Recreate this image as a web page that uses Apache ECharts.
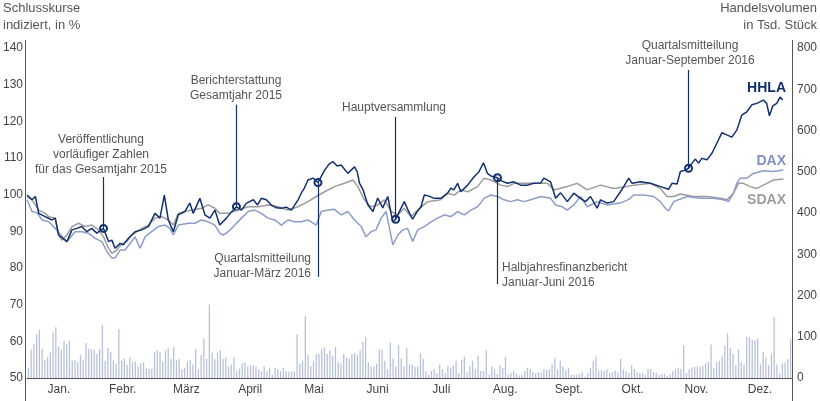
<!DOCTYPE html>
<html>
<head>
<meta charset="utf-8">
<script src="https://cdn.jsdelivr.net/npm/echarts@6/dist/echarts.min.js"></script>
<style>
  html, body { margin: 0; padding: 0; background: #fff; }
  #main { width: 820px; height: 401px; }
</style>
</head>
<body>
<div id="main"></div>
<script>
var months = ['Jan.', 'Febr.', 'März', 'April', 'Mai', 'Juni', 'Juli', 'Aug.', 'Sept.', 'Okt.', 'Nov.', 'Dez.'];

// [Tag im Jahr, Schlusskurs indiziert in %]
var hhla = [[0,99.9],[2.4,98.6],[4,99.5],[5.6,94.9],[8.7,94],[11.9,93.1],[13.5,93.6],[15.1,89],[19.1,87.2],[21.5,90.4],[23.9,90.8],[26.2,91.3],[28.6,89.9],[31,90.8],[33.4,89.5],[36.6,90.8],[39,87.2],[40.6,87.6],[42.1,85.4],[44.5,86.7],[46.1,86.3],[48.5,88.1],[51.7,89.9],[54.9,90.4],[58.1,91.3],[61.2,94.9],[63.6,93.6],[65.7,99.9],[67.6,93.1],[70,89.9],[72.4,94.5],[75.5,95.4],[77.9,97.7],[79.5,94.9],[82.7,99],[85.1,94.5],[87.5,93.6],[89.9,95.8],[92.2,91.7],[95.4,93.6],[97.8,95.3],[100.2,96.7],[102.6,95.8],[105,97.7],[108.3,98.6],[110.3,97.2],[112.1,99],[114.5,98.6],[116.9,97.2],[119.3,96.4],[121.7,96.3],[124.1,96.6],[126.5,95.8],[129.7,98.6],[131.2,100.4],[132.7,101.8],[134.4,104],[136.9,104.5],[139.2,103.3],[142.4,106.7],[144.6,108.4],[146.4,109],[148.4,107.8],[150.3,108.1],[153.5,105.8],[156.7,107.6],[158,106.2],[159.1,103.1],[160.8,101.3],[163.1,97.2],[165.5,95.4],[167.8,99.1],[170.2,96.4],[172.6,99.5],[175,92.6],[176.4,93.3],[178.5,95.8],[180.5,98.1],[182.3,95.8],[184.5,93.3],[186.6,95.3],[188.5,96.7],[190.1,99.9],[192.3,99.6],[194.8,99],[198,99],[201.2,100.4],[202.8,101.8],[204.2,101.3],[206,103.1],[207.6,100.8],[210.8,102.6],[213.9,104.9],[216.2,106.2],[218.4,108.7],[220.3,105.8],[221.9,105.1],[225.1,104.6],[227.2,103.7],[229.9,103.1],[232.9,103.5],[236.2,102.6],[239.5,102.6],[242.4,103.1],[245.8,103.2],[247.3,104.5],[250.5,103.5],[252.9,99],[255.3,100.5],[258.5,98.1],[261.6,100.4],[264.8,99],[267.2,98.1],[269.6,99.5],[272.8,96.3],[274.4,98.6],[277.6,97.7],[280.7,98.1],[283.9,100.8],[285.5,102.2],[287.9,104.5],[289.5,103.1],[293.5,103.5],[298.3,103.1],[303.1,102.2],[307,101.5],[308.6,103.1],[311,102.9],[312.6,106.3],[315,106.7],[316.5,107.2],[318.2,108.6],[319.7,109.7],[321.3,108.6],[322.9,109.9],[325.3,109.5],[327.7,111.3],[330.8,114.9],[332.5,116.9],[334.8,116.3],[337.2,115.7],[339.6,117.6],[340.4,118.1],[342,121.7],[344.4,122.6],[346.8,124.5],[349.2,124.9],[352.3,125.8],[353.9,124.9],[355.2,121.5],[356.8,124.2],[358.7,124.9],[360.3,126.6],[361.6,125.8]];

var dax = [[0,98.6],[2.4,95.4],[4.8,95.1],[7.2,93.1],[10.4,92.6],[13.5,90.8],[17.5,88.1],[19.1,87.2],[23,89.9],[26.2,89.9],[29.4,89.5],[32.6,88.1],[35.8,87.2],[38.2,84.5],[40.6,82.7],[42.1,82.7],[44.5,84.9],[46.9,84.9],[49.3,86.7],[51.7,88.5],[54.1,85.4],[56.5,88.5],[59.6,89.9],[62.8,91.3],[66,91.7],[68.4,90.8],[70,89],[72.4,91.7],[77.2,92.2],[80.3,92.2],[83.5,93.1],[86.7,92.6],[89.9,91.7],[92.2,89.5],[93.9,89],[96.3,89.9],[99.4,91.7],[102.6,93.6],[105.8,95.4],[108.9,95.8],[112.1,94.9],[115.3,93.6],[118.5,93.1],[121.7,91.7],[124.9,93.1],[128,92.6],[131.2,92.6],[134.4,93.1],[138.4,91.7],[140.8,95.4],[144,95.8],[147.1,96],[150.3,94.5],[153.5,95.4],[156.7,93.1],[159.9,91.3],[162.2,88.5],[164.6,89.9],[167,90.4],[169.4,93.6],[171.8,95.4],[173.2,91.5],[175,86.3],[177.4,89],[179.8,90.4],[182.1,90.8],[184.5,87.2],[186.9,90.4],[190.1,91.3],[193.3,92.6],[196.5,93.6],[199.6,94.5],[202.8,94],[206,95.4],[209.2,94.5],[212.4,95.8],[215.6,96.7],[218.7,99],[221.9,99.9],[225.1,99.5],[228.2,98.6],[231.4,98.1],[234.6,98.6],[237.8,98.1],[241,98.6],[245.8,99.5],[250.5,99],[252.9,97.2],[256.1,96.7],[258.5,95.8],[261.6,97.2],[264.8,99.5],[268,96.7],[272.8,98.1],[277.6,97.2],[283.9,97.7],[287.9,98.7],[290.3,99.9],[295.1,99.9],[299.8,99.5],[303,98.1],[305.4,96.3],[307,95.6],[309.4,98.1],[315.8,99.5],[322.1,99],[328.5,99],[333.2,98.6],[335.6,98.1],[338,100.4],[339.6,103.1],[341.2,104.5],[344.4,104.5],[347.6,105.8],[352.3,106.5],[357.1,106.3],[361.9,106.7]];

var sdax = [[0,99.5],[2.4,98.6],[5.6,95.8],[8.7,94.9],[10.4,94],[13.5,93.6],[15.1,89],[16.7,87.6],[19.1,89],[21.5,91.3],[24.7,92.2],[27.8,91.3],[31,91.7],[34.2,90.4],[36.6,88.5],[39,85.4],[40.6,84],[42.9,84.9],[45.3,86.7],[47.7,87.2],[50.1,89],[52.5,89.9],[54.9,90.8],[58.1,91.7],[61.2,93.6],[64.4,94],[67.6,93.1],[70,91.7],[72.4,94.9],[75.5,95.4],[78.7,95.8],[83.5,96.3],[86.7,97.2],[89.9,96.3],[92.2,94.9],[96.3,94.9],[101,95.8],[105.8,96.7],[110.6,96.7],[115.3,97.2],[120.1,96.7],[124.9,95.8],[129.7,96.7],[134.4,98.1],[138.4,99.5],[142.4,100.8],[147.1,102.2],[151.9,103.1],[155.9,104],[158.3,102.2],[161.4,98.6],[164.6,96.7],[167.8,97.2],[171,98.6],[174.2,95.4],[177.4,94.5],[180.5,96.3],[183.7,94],[186.9,95.8],[191.7,98.1],[198,98.6],[201.2,100.4],[204.4,99.9],[207.6,101.3],[210.8,100.8],[215.6,102.2],[218.7,104.5],[221.9,104],[226.7,102.6],[229.9,102.2],[233,103.1],[241,103.1],[249,103.1],[252.1,101.3],[258.5,102.2],[263.3,103.1],[268,101.3],[274.4,102.6],[280.7,101.7],[287.1,102.2],[290.3,102.6],[298.3,103.1],[303,101.7],[306.2,99.5],[309.4,99.5],[312.6,100.2],[318.9,99.5],[325.3,99.5],[331.7,99],[334.9,98.6],[338,100.4],[340.4,103.1],[342.8,103.1],[346,102.2],[349.2,101.7],[354,103.1],[357.1,104],[361.9,104.3]];

// Handelsvolumen in Tsd. Stück, ein Wert je Handelstag
var volume = [25,69,82,106,117,71,43,50,63,110,123,75,68,90,82,91,42,43,38,56,43,85,71,70,68,58,70,129,42,72,63,43,35,119,43,47,32,50,
  38,40,27,36,38,23,22,22,63,68,63,39,67,72,46,75,43,46,21,25,39,43,33,71,21,56,96,46,178,
  61,46,61,67,46,50,28,33,50,17,23,35,38,28,31,31,28,20,16,28,16,23,8,25,21,16,25,17,16,16,16,106,36,42,150,56,29,42,58,58,71,75,58,67,54,75,38,35,58,50,47,58,60,56,67,88,100,38,28,28,35,69,69,42,21,86,47,28,80,
  47,28,72,33,33,28,28,61,46,17,8,17,21,12,33,21,12,29,25,31,42,12,44,52,14,29,42,21,54,17,17,68,8,28,21,10,31,24,52,8,12,17,11,6,8,17,25,22,14,12,14,14,21,19,21,33,48,21,42,28,19,25,8,8,8,10,14,3,12,25,42,52,17,19,17,21,12,14,19,14,46,21,17,12,31,22,14,12,12,8,22,22,14,12,8,9,11,6,9,17,21,25,22,79,12,22,25,27,28,28,29,36,39,81,25,38,42,52,79,108,73,58,31,68,38,33,100,98,93,92,96,33,63,50,31,58,148,33,11,35,38,46,94];

// Ereignisse auf der HHLA-Linie: [Tag im Jahr, Kurs]
var eventNames = ['Veröffentlichung\nvorläufiger Zahlen\nfür das Gesamtjahr 2015', 'Berichterstattung\nGesamtjahr 2015', 'Quartalsmitteilung\nJanuar-März 2016', 'Hauptversammlung', 'Halbjahresfinanzbericht\nJanuar-Juni 2016', 'Quartalsmitteilung\nJanuar-September 2016'];
var eventPoints = [[36.6,90.8],[100.2,96.7],[139.2,103.3],[176.4,93.3],[225.1,104.6],[316.5,107.2]];

var navy = '#12306f';
var daxColor = '#8c9dc8';
var sdaxColor = '#9c9c9c';
var textColor = '#555';
var font = '"Liberation Sans", Arial, sans-serif';

// where each callout line ends (in % of the left axis) and where its text sits
var calloutEnds = [104.8, 124.5, 77.6, 121.2, 75.6, 134];
var calloutText = [
  { x: 101, y: 132, align: 'center' },
  { x: 236, y: 73, align: 'center' },
  { x: 311, y: 251, align: 'right' },
  { x: 394, y: 100, align: 'center' },
  { x: 502, y: 260, align: 'left' },
  { x: 690, y: 38, align: 'center' }
];

var chart = echarts.init(document.getElementById('main'));

var markLines = eventPoints.map(function (p, i) {
  return [{ coord: [p[0], p[1]] }, { coord: [p[0], calloutEnds[i]] }];
});

var graphics = [
  { type: 'line', shape: { x1: 25.5, y1: 40, x2: 25.5, y2: 401 }, style: { stroke: '#555', lineWidth: 1 } },
  { type: 'line', shape: { x1: 792.5, y1: 40, x2: 792.5, y2: 401 }, style: { stroke: '#555', lineWidth: 1 } },
  { type: 'text', style: { text: 'Schlusskurse\nindiziert, in %', x: 3, y: 0, font: '13px ' + font, fill: textColor, lineHeight: 17 } },
  { type: 'text', style: { text: 'Handelsvolumen\nin Tsd. Stück', x: 817, y: 0, align: 'right', font: '13px ' + font, fill: textColor, lineHeight: 17 } },
  { type: 'text', style: { text: 'HHLA', x: 786, y: 88, align: 'right', verticalAlign: 'middle', font: 'bold 14px ' + font, fill: navy } },
  { type: 'text', style: { text: 'DAX', x: 786, y: 161, align: 'right', verticalAlign: 'middle', font: 'bold 14px ' + font, fill: '#7e91c2' } },
  { type: 'text', style: { text: 'SDAX', x: 786, y: 200, align: 'right', verticalAlign: 'middle', font: 'bold 14px ' + font, fill: sdaxColor } }
];
calloutText.forEach(function (t, i) {
  graphics.push({
    type: 'text',
    style: { text: eventNames[i], x: t.x, y: t.y, align: t.align, font: '12px ' + font, fill: textColor, lineHeight: 15 }
  });
});

var option = {
  animation: false,
  backgroundColor: '#fff',
  grid: { left: 25, right: 28, top: 48, bottom: 23 },
  xAxis: [
    { type: 'value', min: 0, max: 366, show: false, position: 'bottom' },
    { type: 'category', data: volume.map(function (v, i) { return i; }), show: false, position: 'bottom', boundaryGap: true },
    {
      type: 'category', data: months, position: 'bottom', boundaryGap: true,
      axisLine: { show: true, lineStyle: { color: '#555', width: 1 } },
      axisTick: { show: false },
      axisLabel: { color: '#444', fontSize: 12, fontFamily: font, margin: 6 }
    }
  ],
  yAxis: [
    {
      type: 'value', min: 50, max: 140, interval: 10, position: 'left',
      axisLine: { show: false }, axisTick: { show: false }, splitLine: { show: false },
      axisLabel: { color: '#444', fontSize: 12, fontFamily: font, margin: 4, padding: [0, 0, 6, 0] }
    },
    {
      type: 'value', min: 0, max: 800, interval: 100, position: 'right',
      axisLine: { show: false }, axisTick: { show: false }, splitLine: { show: false },
      axisLabel: { color: '#444', fontSize: 12, fontFamily: font, margin: 5, padding: [0, 0, 6, 0] }
    }
  ],
  graphic: graphics,
  series: [
    {
      type: 'bar', xAxisIndex: 1, yAxisIndex: 1, data: volume,
      barWidth: 1.3, itemStyle: { color: '#b7c2da' }, silent: true
    },
    {
      type: 'line', xAxisIndex: 0, yAxisIndex: 0, data: [], silent: true,
      markLine: {
        symbol: ['none', 'none'], silent: true, animation: false,
        label: { show: false },
        lineStyle: { color: navy, width: 1.2, type: 'solid' },
        emphasis: { disabled: true },
        data: markLines
      }
    },
    {
      name: 'SDAX', type: 'line', xAxisIndex: 0, yAxisIndex: 0, data: sdax,
      showSymbol: false, lineStyle: { color: sdaxColor, width: 1.5 }, silent: true
    },
    {
      name: 'DAX', type: 'line', xAxisIndex: 0, yAxisIndex: 0, data: dax,
      showSymbol: false, lineStyle: { color: daxColor, width: 1.5 }, silent: true
    },
    {
      name: 'HHLA', type: 'line', xAxisIndex: 0, yAxisIndex: 0, data: hhla,
      showSymbol: false, lineStyle: { color: navy, width: 1.5 }, silent: true
    },
    {
      type: 'scatter', xAxisIndex: 0, yAxisIndex: 0, data: eventPoints,
      symbol: 'circle', symbolSize: 7, silent: true,
      itemStyle: { color: '#fff', borderColor: navy, borderWidth: 2, opacity: 1 }
    }
  ]
};
chart.setOption(option);
</script>
</body>
</html>
